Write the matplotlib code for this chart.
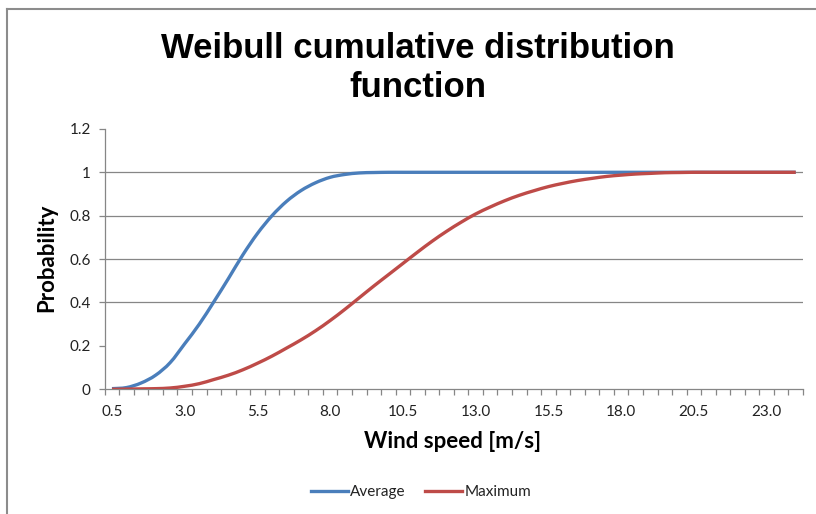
import matplotlib
matplotlib.use("Agg")
import matplotlib.pyplot as plt
from matplotlib.lines import Line2D
from matplotlib.path import Path
from matplotlib.patches import PathPatch
from matplotlib.ticker import FixedLocator, NullFormatter

# ---- data ----
wind_speed = [0.5, 1.0, 1.5, 2.0, 2.5, 3.0, 3.5, 4.0, 4.5, 5.0,
              5.5, 6.0, 6.5, 7.0, 7.5, 8.0, 8.5, 9.0, 9.5, 10.0,
              10.5, 11.0, 11.5, 12.0, 12.5, 13.0, 13.5, 14.0, 14.5, 15.0,
              15.5, 16.0, 16.5, 17.0, 17.5, 18.0, 18.5, 19.0, 19.5, 20.0,
              20.5, 21.0, 21.5, 22.0, 22.5, 23.0, 23.5, 24.0]

average = [0.003, 0.008, 0.029, 0.065, 0.123, 0.210, 0.300, 0.403, 0.510, 0.620,
           0.718, 0.800, 0.866, 0.916, 0.952, 0.977, 0.990, 0.997, 0.999, 1.000,
           1.000, 1.000, 1.000, 1.000, 1.000, 1.000, 1.000, 1.000, 1.000, 1.000,
           1.000, 1.000, 1.000, 1.000, 1.000, 1.000, 1.000, 1.000, 1.000, 1.000,
           1.000, 1.000, 1.000, 1.000, 1.000, 1.000, 1.000, 1.000]

maximum = [0.000, 0.001, 0.002, 0.003, 0.006, 0.014, 0.026, 0.045, 0.065, 0.090,
           0.120, 0.153, 0.190, 0.228, 0.270, 0.317, 0.368, 0.422, 0.476, 0.528,
           0.580, 0.632, 0.682, 0.728, 0.770, 0.808, 0.840, 0.869, 0.894, 0.915,
           0.934, 0.949, 0.962, 0.972, 0.981, 0.987, 0.992, 0.995, 0.998, 0.999,
           1.000, 1.000, 1.000, 1.000, 1.000, 1.000, 1.000, 1.000]

x_tick_labels = ["0.5", "3.0", "5.5", "8.0", "10.5", "13.0", "15.5", "18.0", "20.5", "23.0"]
y_ticks = [0, 0.2, 0.4, 0.6, 0.8, 1, 1.2]
y_tick_labels = ["0", "0.2", "0.4", "0.6", "0.8", "1", "1.2"]
series_names = ["Average", "Maximum"]

title_text = "Weibull cumulative distribution\nfunction"
x_label = "Wind speed [m/s]"
y_label = "Probability"

# ---- style ----
W, H = 816, 514
BLUE = "#4A7EBB"
RED = "#BE4B48"
GRID = "#868686"
LABEL_FONT = ["Lato", "DejaVu Sans"]
TITLE_FONT = ["Liberation Sans Narrow", "Liberation Sans", "DejaVu Sans"]
LW = 2.4


def smooth_path(xs, ys):
    """Smoothed line through the data points (Excel-like smoothing)."""
    verts = [(xs[0], ys[0])]
    codes = [Path.MOVETO]
    n = len(xs)
    for i in range(n - 1):
        x0, y0 = xs[max(i - 1, 0)], ys[max(i - 1, 0)]
        x1, y1 = xs[i], ys[i]
        x2, y2 = xs[i + 1], ys[i + 1]
        x3, y3 = xs[min(i + 2, n - 1)], ys[min(i + 2, n - 1)]
        c1 = (x1 + (x2 - x0) / 6, y1 + (y2 - y0) / 6)
        c2 = (x2 - (x3 - x1) / 6, y2 - (y3 - y1) / 6)
        verts += [c1, c2, (x2, y2)]
        codes += [Path.CURVE4] * 3
    return Path(verts, codes)


fig = plt.figure(figsize=(W / 100, H / 100), dpi=100)
fig.patch.set_facecolor("white")

# chart border (left and top visible)
fig.add_artist(Line2D([7 / W, 7 / W], [0, 1 - 8.5 / H], transform=fig.transFigure,
                      color="#8c8c8c", lw=1.5))
fig.add_artist(Line2D([7 / W, 1], [1 - 8.5 / H, 1 - 8.5 / H], transform=fig.transFigure,
                      color="#8c8c8c", lw=1.5))

left, right = 104.7 / W, 803 / W
bottom, top = 1 - 389.3 / H, 1 - 128.9 / H
ax = fig.add_axes([left, bottom, right - left, top - bottom])

for ys, col, z in [(average, BLUE, 3), (maximum, RED, 4)]:
    ax.add_patch(PathPatch(smooth_path(wind_speed, ys), facecolor="none",
                           edgecolor=col, lw=LW, zorder=z, capstyle="butt"))

step = wind_speed[1] - wind_speed[0]
ax.set_xlim(wind_speed[0] - step / 2, wind_speed[-1] + step / 2)
ax.set_ylim(0, 1.2)

# gridlines (reference shows lines at 0.4 .. 1.0)
for yv in [0.4, 0.6, 0.8, 1.0]:
    ax.axhline(yv, color=GRID, lw=0.9, zorder=1)

for s in ["top", "right"]:
    ax.spines[s].set_visible(False)
for s in ["left", "bottom"]:
    ax.spines[s].set_color(GRID)
    ax.spines[s].set_linewidth(0.9)

ax.set_yticks(y_ticks)
ax.set_yticklabels(y_tick_labels, fontfamily=LABEL_FONT, fontsize=11, color="#222222")
ax.tick_params(axis="y", direction="out", length=4, width=0.9, color=GRID, pad=6)

label_pos = [float(t) for t in x_tick_labels]
ax.set_xticks(label_pos)
ax.set_xticklabels(x_tick_labels, fontfamily=LABEL_FONT, fontsize=11, color="#222222")
ax.tick_params(axis="x", which="major", length=0, pad=11)
bounds = [w - step / 2 for w in wind_speed] + [wind_speed[-1] + step / 2]
ax.xaxis.set_minor_locator(FixedLocator(bounds))
ax.xaxis.set_minor_formatter(NullFormatter())
ax.tick_params(axis="x", which="minor", direction="out", length=4.5, width=0.9, color=GRID)

# title and axis titles
fig.text(418 / W, 1 - 68 / H, title_text, ha="center", va="center",
         fontfamily=TITLE_FONT, fontweight="bold", fontsize=25, linespacing=1.25)
fig.text(453 / W, 1 - 441 / H, x_label, ha="center", va="center",
         fontfamily=LABEL_FONT, fontweight="bold", fontsize=16)
fig.text(47 / W, 1 - 258 / H, y_label, ha="center", va="center", rotation=90,
         fontfamily=LABEL_FONT, fontweight="bold", fontsize=16)

handles = [Line2D([], [], color=BLUE, lw=LW), Line2D([], [], color=RED, lw=LW)]
leg = fig.legend(handles, series_names, loc="center", bbox_to_anchor=(421 / W, 1 - 492 / H),
                 ncol=2, frameon=False, handlelength=2.4, handletextpad=0.15,
                 columnspacing=1.3, prop={"family": LABEL_FONT, "size": 11})
for t in leg.get_texts():
    t.set_color("#222222")

fig.savefig("out.png", dpi=100, facecolor="white")
